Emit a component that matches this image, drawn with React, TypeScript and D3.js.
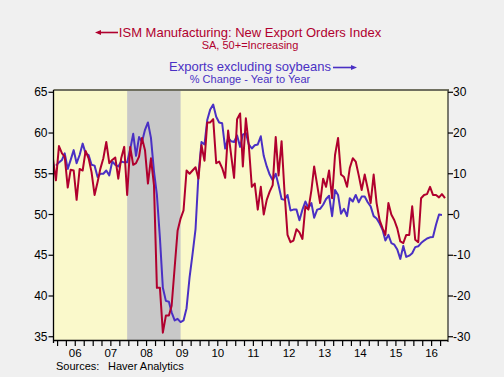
import React from "react";
import * as d3 from "d3";

// ISM Manufacturing: New Export Orders Index (SA, 50+=Increasing), monthly from Nov 2005
const ismStart = [2005, 11];
const ismValues = [
  56.8, 54.2,
  58.4, 57.5, 57.1, 53.3, 55.5, 55.4, 51.8, 55.6, 55.4, 57.8, 56.9, 55.2,
  52.4, 54.0, 55.6, 56.9, 58.9, 56.3, 56.7, 57.0, 54.4, 56.9, 58.3, 52.4,
  58.3, 56.1, 56.3, 57.1, 59.4, 57.9, 53.8, 56.9, 53.6, 41.0, 41.0, 35.5,
  37.6, 37.6, 38.8, 43.5, 48.0, 49.5, 50.5, 55.4, 55.0, 55.4, 55.8, 54.4,
  58.5, 56.6, 61.3, 61.3, 61.7, 56.3, 56.5, 55.7, 54.5, 60.3, 57.3, 54.5,
  61.7, 62.4, 55.9, 61.8, 58.5, 53.4, 53.8, 50.6, 53.4, 50.0, 51.8, 52.8,
  53.6, 59.5, 54.8, 59.0, 52.8, 47.5, 46.6, 46.8, 48.2, 47.8, 47.0, 51.0,
  50.6, 53.0, 55.9, 53.6, 51.4, 54.4, 53.4, 55.4, 52.0, 57.3, 59.4, 54.9,
  54.6, 53.4, 55.7, 56.9, 56.5, 54.8, 53.0, 54.9, 53.2, 51.4, 54.9, 51.4,
  49.3, 48.3, 47.5, 51.4, 50.0, 49.3, 48.3, 46.7, 46.5, 47.5, 47.5, 51.0,
  46.9, 46.6, 52.0, 52.4, 52.5, 53.4, 52.4, 52.4, 52.1, 52.5, 52.0,
];

// Exports excluding soybeans, % change year to year, monthly from Dec 2005
const exportsStart = [2005, 12];
const exportsValues = [
  12.0,
  12.8, 13.4, 15.0, 11.2, 13.4, 15.8, 12.6, 14.6, 17.4, 15.0, 14.6, 12.2,
  12.0, 9.2, 10.0, 10.0, 10.8, 9.6, 13.0, 12.2, 11.8, 13.0, 12.8, 12.8,
  16.0, 19.8, 14.4, 19.0, 17.8, 20.8, 22.6, 18.8, 10.6, 4.8, -5.8, -18.0,
  -21.2, -21.4, -24.0, -26.0, -25.6, -26.4, -26.0, -23.0, -15.4, -9.8, -3.6, 9.8,
  17.8, 17.2, 23.2, 25.8, 27.0, 24.0, 22.6, 22.4, 16.2, 18.8, 18.0, 17.8,
  19.4, 16.6, 19.6, 20.0, 17.2, 16.2, 17.0, 17.2, 19.2, 14.4, 11.8, 9.8,
  8.4, 10.0, 7.2, 3.8, 3.6, 4.8, 1.0, 1.2, 1.2, -1.4, 1.2, 3.2,
  1.6, 2.8, -0.8, 1.2, 1.4, 2.4, 3.8, 4.6, -0.4, 6.0, 4.8, 0.2,
  1.4, -0.4, 4.0, 3.2, 4.8, 3.0, 4.4, 4.4, 3.0, 2.0, -0.4, -1.0,
  -2.2, -3.8, -6.4, -5.0, -7.0, -7.4, -8.6, -10.9, -7.7, -10.4, -10.1, -9.5,
  -8.0, -7.8, -7.0, -6.4, -5.9, -5.6, -5.5, -2.5, 0.0, -0.1,
];

const leftTicks = [35, 40, 45, 50, 55, 60, 65];
const rightTicks = [-30, -20, -10, 0, 10, 20, 30];
const yearLabels = ["06", "07", "08", "09", "10", "11", "12", "13", "14", "15", "16"];
const recession = [[2007, 12], [2009, 6]];

const RED = "#B0002E";
const BLUE = "#4A30C4";
const FONT = "'Liberation Sans', Arial, Helvetica, sans-serif";

const L = 53.5, R = 448, T = 90, B = 340;

function monthDate(start: number[], i: number) {
  return new Date(start[0], start[1] - 1 + i, 15);
}

export default function App() {
  const x = d3.scaleTime().domain([new Date(2005, 10, 20), new Date(2016, 11, 16)]).range([L, R]);
  const yL = d3.scaleLinear().domain([34.6, 65.28]).range([B, T]);
  const yR = d3.scaleLinear().domain([-30.8, 30.56]).range([B, T]);

  const redLine = d3.line<number>().x((_, i) => x(monthDate(ismStart, i))).y((v) => yL(v))(ismValues) || "";
  const blueLine = d3.line<number>().x((_, i) => x(monthDate(exportsStart, i))).y((v) => yR(v))(exportsValues) || "";

  const quarterTicks = d3.timeMonths(new Date(2006, 0, 1), new Date(2016, 11, 1), 3);
  const recX0 = x(new Date(recession[0][0], recession[0][1] - 1, 15));
  const recX1 = x(new Date(recession[1][0], recession[1][1] - 1, 15));

  return (
    <svg width={504} height={377} style={{ position: "absolute", left: 0, top: 0, fontFamily: FONT }}>
      <defs>
        <clipPath id="plotclip">
          <rect x={L} y={T} width={R - L} height={B - T} />
        </clipPath>
      </defs>
      <rect x={0} y={0} width={504} height={377} fill="#F0F0F0" />
      <rect x={L} y={T} width={R - L} height={B - T} fill="#FAF9CB" />
      <rect x={recX0} y={T} width={recX1 - recX0} height={B - T} fill="#C8C8C8" />

      <g clipPath="url(#plotclip)">
        <path d={blueLine} fill="none" stroke={BLUE} strokeWidth={2} strokeLinejoin="round" />
        <path d={redLine} fill="none" stroke={RED} strokeWidth={2} strokeLinejoin="round" />
      </g>

      {/* frame */}
      <line x1={L} x2={R + 1} y1={T} y2={T} stroke="#707060" strokeWidth={2} />
      <line x1={R} x2={R} y1={T} y2={B + 2} stroke="#505048" strokeWidth={1.5} />
      <line x1={L} x2={L} y1={T} y2={B + 3} stroke="#000" strokeWidth={1.3} />
      <line x1={L} x2={R} y1={B + 0.5} y2={B + 0.5} stroke="#000" strokeWidth={1.3} />

      {/* left axis */}
      {leftTicks.map((t) => (
        <g key={"l" + t}>
          <line x1={L - 5} x2={L} y1={yL(t)} y2={yL(t)} stroke="#000" strokeWidth={1.2} />
          <text x={L - 6} y={yL(t)} dy="0.35em" textAnchor="end" fontSize={12} fill="#000">{t}</text>
        </g>
      ))}

      {/* right axis */}
      {rightTicks.map((t) => (
        <g key={"r" + t}>
          <line x1={R} x2={R + 5} y1={yR(t)} y2={yR(t)} stroke="#000" strokeWidth={1.2} />
          <text x={R + 5} y={yR(t)} dy="0.35em" textAnchor="start" fontSize={12} fill="#000">{t}</text>
        </g>
      ))}

      {/* x axis */}
      {quarterTicks.map((d, i) => (
        <line key={"q" + i} x1={x(d)} x2={x(d)} y1={B + 1} y2={B + 6} stroke="#000" strokeWidth={1.2} />
      ))}
      {yearLabels.map((lab, i) => (
        <text key={"y" + lab} x={x(new Date(2006 + i, 6, 1))} y={357} textAnchor="middle" fontSize={11.5} fill="#000">{lab}</text>
      ))}

      <text x={56} y={370} fontSize={11} fill="#000">Sources:</text>
      <text x={108} y={370} fontSize={11} fill="#000">Haver Analytics</text>

      {/* legend titles */}
      <line x1={98} x2={118} y1={32.5} y2={32.5} stroke={RED} strokeWidth={1.6} />
      <polygon points="95,32.5 101,30 101,35" fill={RED} />
      <text x={250} y={36.5} textAnchor="middle" fontSize={13} fill={RED}>ISM Manufacturing: New Export Orders Index</text>
      <text x={250} y={48.5} textAnchor="middle" fontSize={11} fill={RED}>SA, 50+=Increasing</text>

      <text x={250} y={71} textAnchor="middle" fontSize={13} fill={BLUE}>Exports excluding soybeans</text>
      <line x1={333} x2={353} y1={67.5} y2={67.5} stroke={BLUE} strokeWidth={1.6} />
      <polygon points="357,67.5 351,65 351,70" fill={BLUE} />
      <text x={250} y={83} textAnchor="middle" fontSize={11} fill={BLUE}>% Change - Year to Year</text>
    </svg>
  );
}
